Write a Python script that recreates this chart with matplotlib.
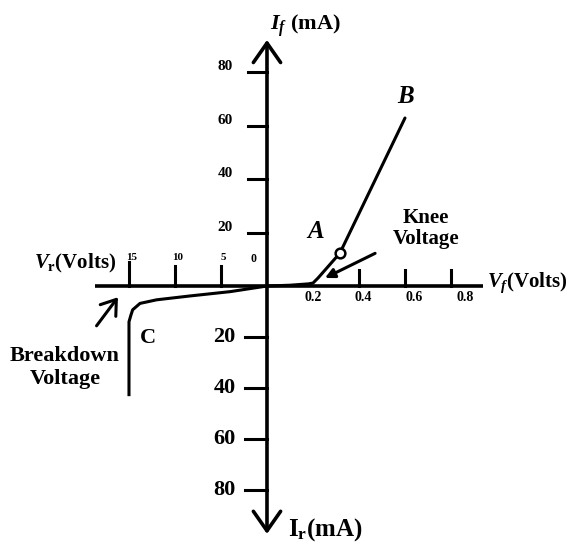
import numpy as np
import matplotlib.pyplot as plt

plt.rcParams['font.family'] = 'Liberation Serif'
plt.rcParams['font.weight'] = 'bold'
plt.rcParams['mathtext.fontset'] = 'custom'
plt.rcParams['mathtext.it'] = 'Liberation Serif:italic:bold'
plt.rcParams['mathtext.rm'] = 'Liberation Serif:bold'
plt.rcParams['mathtext.bf'] = 'Liberation Serif:bold'

# forward characteristic (V in volts, I in mA)
vf = [0, 0.1, 0.18, 0.2, 0.222, 0.317, 0.6]
i_f = [0, 0.3, 0.8, 1.1, 3.0, 12.3, 62.8]
# reverse characteristic (V in volts, I in mA, both negative)
vr = [0, -4, -8.4, -12.0, -13.8, -14.6, -14.8, -15, -15]
i_r = [0, -2.2, -3.9, -5.4, -6.8, -9.3, -11.5, -14, -42.5]

knee_v, knee_i = 0.317, 12.3

f_ticks = [20, 40, 60, 80]      # mA above axis
r_ticks = [20, 40, 60, 80]      # mA below axis
vf_ticks = [0.4, 0.6, 0.8]
vf_labels = ['0.2', '0.4', '0.6', '0.8']
vr_ticks = [5, 10]
vr_labels = ['15', '10', '5']
breakdown = 15

# the sketch uses different scales on each half of the axes
VF_STEP, VR_STEP = 0.2, 5.0
IF_STEP, IR_STEP = 20.0, 20.0 * 56 / 53.5


def fx(v):
    v = np.asarray(v, dtype=float)
    return np.where(v >= 0, v / VF_STEP, v / VR_STEP)


def fy(i):
    i = np.asarray(i, dtype=float)
    return np.where(i >= 0, i / IF_STEP, i / IR_STEP)


fig = plt.figure(figsize=(5.71, 5.60), dpi=100)
ax = fig.add_axes([0, 0, 1, 1])
ax.set_xlim(-5.804, 6.609)
ax.set_ylim(-5.121, 5.346)
ax.axis('off')

lw_axis = 2.6
# axes
ax.plot(fx([-18.7, 0.94]), [0, 0], color='black', lw=lw_axis, solid_capstyle='butt')
ax.annotate('', xy=(0, fy(92)), xytext=(0, fy(-97)),
            arrowprops=dict(arrowstyle='<->,head_length=0.5,head_width=0.35',
                            lw=lw_axis, color='black', mutation_scale=28,
                            shrinkA=0, shrinkB=0))

# current ticks
for t in f_ticks:
    ax.plot([-0.41, 0], [fy(t), fy(t)], color='black', lw=2.2)
    ax.text(-0.74, fy(t) + 0.1, str(t), ha='right', va='center', fontsize=11)
for t in r_ticks:
    ax.plot([-0.48, 0], [fy(-t), fy(-t)], color='black', lw=2.2)
    ax.text(-0.68, fy(-t), str(t), ha='right', va='center', fontsize=16)

# voltage ticks
for v in vf_ticks:
    ax.plot([fx(v), fx(v)], [0, 0.3], color='black', lw=2.2)
for k, lab in enumerate(vf_labels):
    v = float(lab)
    ax.text(fx(v) + 0.1 * k, -0.21, lab, ha='center', va='center', fontsize=10)
for v in vr_ticks:
    ax.plot([fx(-v), fx(-v)], [0, 0.37], color='black', lw=2.2)
ax.plot([fx(-breakdown), fx(-breakdown)], [0, 0.45], color='black', lw=2.2)
for lab in vr_labels:
    ax.text(fx(-float(lab)) + 0.05, 0.54, lab, ha='center', va='center', fontsize=8)
ax.text(-0.3, 0.5, '0', ha='center', va='center', fontsize=8.5)

# characteristic curve
ax.plot(fx(vf), fy(i_f), color='black', lw=2.2, solid_capstyle='round')
ax.plot(fx(vr), fy(i_r), color='black', lw=2.2, solid_joinstyle='round')
ax.plot(fx(knee_v), fy(knee_i), marker='o', ms=7, mfc='white', mec='black', mew=1.8)

# axis titles
ax.text(0.065, 4.86, r'$I_{f}$ (mA)', ha='left', va='center', fontsize=16)
ax.text(-4.17, 0.43, r'$V_{\mathrm{r}}$(Volts)', ha='center', va='center', fontsize=15)
ax.text(4.78, 0.056, r'$V_{f}$(Volts)', ha='left', va='center', fontsize=15)
ax.text(0.457, -4.56, r'I$_{\mathrm{r}}$(mA)', ha='left', va='center', fontsize=18)

# point labels
ax.text(1.065, 1.01, r'$A$', ha='center', va='center', fontsize=18)
ax.text(3.02, 3.55, r'$B$', ha='center', va='center', fontsize=18)
ax.text(-2.59, -0.97, 'C', ha='center', va='center', fontsize=16)

# annotations
ax.annotate('Knee\nVoltage', xy=(1.26, 0.15), xytext=(3.46, 1.08),
            ha='center', va='center', fontsize=15, linespacing=1.05,
            arrowprops=dict(arrowstyle='-|>', lw=2.2, color='black',
                            mutation_scale=14, shrinkA=12, shrinkB=0))
ax.annotate('Breakdown\nVoltage', xy=(-3.24, -0.21), xytext=(-4.39, -1.53),
            ha='center', va='center', fontsize=16, linespacing=1.2,
            arrowprops=dict(arrowstyle='->,head_length=0.5,head_width=0.35', lw=2.2,
                            color='black', mutation_scale=20, shrinkA=16, shrinkB=0))

fig.savefig('out.png', dpi=100)
